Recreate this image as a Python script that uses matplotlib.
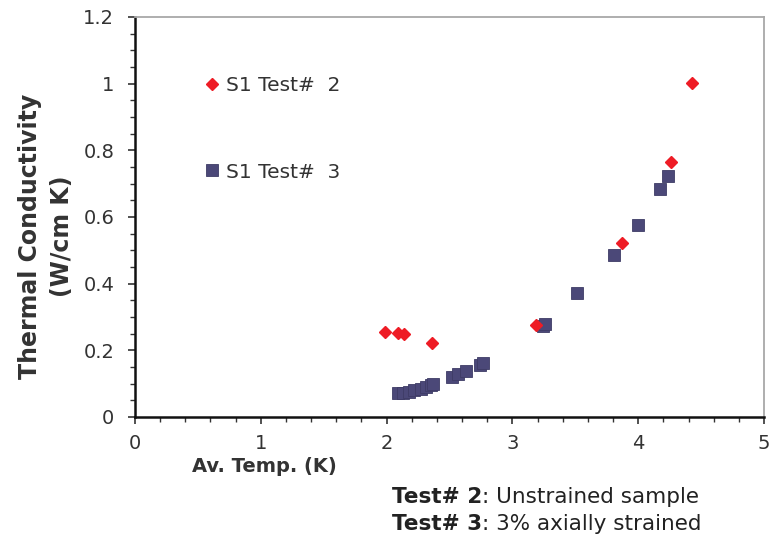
import matplotlib
matplotlib.use("Agg")
import matplotlib.pyplot as plt
from matplotlib.ticker import MultipleLocator

plt.rcParams["font.family"] = ["DejaVu Sans"]

# S1 Test# 2 (unstrained)
t2_temp = [1.99, 2.09, 2.14, 2.36, 3.19, 3.87, 4.26, 4.43]
t2_k = [0.255, 0.252, 0.249, 0.222, 0.276, 0.522, 0.765, 1.002]

# S1 Test# 3 (3% axially strained)
t3_temp = [2.09, 2.13, 2.18, 2.22, 2.27, 2.31, 2.35, 2.37,
           2.52, 2.57, 2.63, 2.74, 2.77,
           3.24, 3.26, 3.51, 3.81, 4.00, 4.17, 4.24]
t3_k = [0.072, 0.073, 0.076, 0.080, 0.085, 0.090, 0.095, 0.100,
        0.120, 0.128, 0.137, 0.155, 0.162,
        0.274, 0.280, 0.372, 0.486, 0.576, 0.684, 0.723]

RED = "#ee1c25"
NAVY = "#4b4878"

fig = plt.figure(figsize=(7.78, 5.41), dpi=100)
ax = fig.add_axes([135 / 778, 124 / 541, 629 / 778, 400 / 541])

ax.plot(t2_temp, t2_k, ls="none", marker="D", ms=6.6, color=RED, mec=RED,
        label="S1 Test#  2", zorder=3)
ax.plot(t3_temp, t3_k, ls="none", marker="s", ms=8.6, color=NAVY, mec="#3e3b66",
        mew=0.6, label="S1 Test#  3", zorder=2)

ax.set_xlim(0, 5)
ax.set_ylim(0, 1.2)
ax.xaxis.set_major_locator(MultipleLocator(1))
ax.xaxis.set_minor_locator(MultipleLocator(0.2))
ax.yaxis.set_major_locator(MultipleLocator(0.2))
ax.yaxis.set_minor_locator(MultipleLocator(0.05))
ax.xaxis.set_major_formatter(lambda v, p: f"{v:g}")
ax.yaxis.set_major_formatter(lambda v, p: f"{v:g}")

for s in ("left", "bottom"):
    ax.spines[s].set_linewidth(1.8)
    ax.spines[s].set_color("#111111")
for s in ("top", "right"):
    ax.spines[s].set_linewidth(1.3)
    ax.spines[s].set_color("#a8a8a8")

ax.tick_params(which="both", top=False, right=False, direction="out",
               color="#333333", labelcolor="#333333", labelsize=14)
ax.tick_params(which="major", length=5, width=1.2)
ax.tick_params(which="minor", length=3.5, width=1.0)
ax.tick_params(axis="x", which="major", pad=7)
ax.tick_params(axis="y", which="major", pad=10)

ax.legend(loc="upper left", bbox_to_anchor=(196 / 778, 1 - 66 / 541),
          bbox_transform=fig.transFigure, frameon=False, fontsize=14.5,
          labelspacing=3.35, handlelength=0.6, handletextpad=0.4,
          borderpad=0, labelcolor="#333333")

fig.text(264 / 778, 1 - 467 / 541, "Av. Temp. (K)", ha="center", va="center",
         fontsize=14, fontweight="bold", color="#333333")
fig.text(46 / 778, 1 - 236 / 541, "Thermal Conductivity\n(W/cm K)", ha="center",
         va="center", rotation=90, fontsize=17, fontweight="bold",
         color="#333333", linespacing=1.45)

# footnote lines: bold prefix followed by regular text
fig.canvas.draw()
renderer = fig.canvas.get_renderer()
for i, (head, tail) in enumerate([("Test# 2", ": Unstrained sample"),
                                  ("Test# 3", ": 3% axially strained")]):
    y = 1 - (497 + 27 * i) / 541
    t = fig.text(392 / 778, y, head, ha="left", va="center", fontsize=15.5,
                 fontweight="bold", color="#222222")
    bb = t.get_window_extent(renderer)
    fig.text(bb.x1 / fig.bbox.width, y, tail, ha="left", va="center",
             fontsize=15.5, color="#222222")

fig.savefig("out.png", dpi=100)
